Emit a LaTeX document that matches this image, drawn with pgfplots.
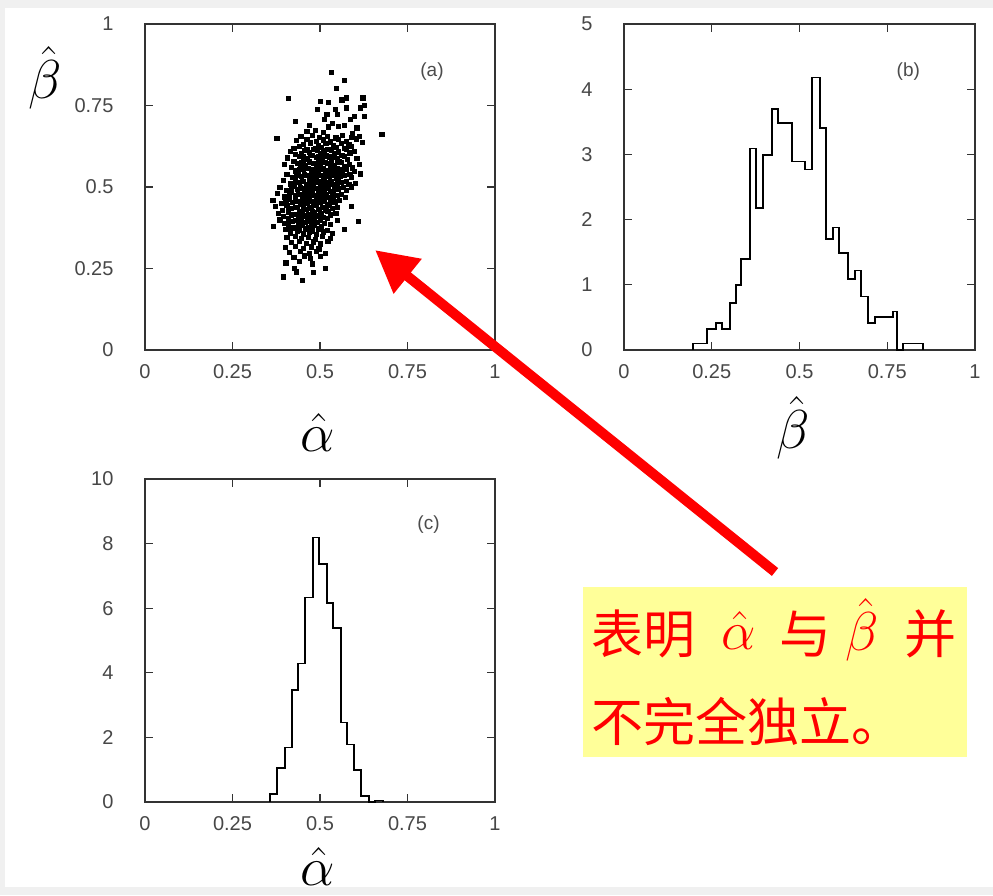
\documentclass[border=0pt]{standalone}
\usepackage{graphicx}
\usepackage{pgfplots}
\pgfplotsset{compat=1.18}
\usepackage{fontspec}
\setmainfont{Liberation Sans}
\newfontfamily\cjk{Noto Sans CJK SC}
\usetikzlibrary{arrows.meta}
\definecolor{boxy}{RGB}{255,255,153}
\definecolor{bgg}{RGB}{240,240,240}
\newcommand{\bigmath}[1]{\scalebox{2.2}{\Huge$#1$}}

\pgfplotstableread{
a b
0.533 0.852
0.569 0.828
0.546 0.804
0.408 0.773
0.500 0.762
0.524 0.759
0.574 0.774
0.562 0.768
0.622 0.774
0.491 0.738
0.543 0.738
0.574 0.743
0.614 0.743
0.626 0.752
0.549 0.723
0.519 0.723
0.598 0.716
0.627 0.718
0.512 0.707
0.429 0.702
0.586 0.709
0.676 0.663
0.551 0.687
0.524 0.685
0.486 0.675
0.462 0.670
0.376 0.649
0.535 0.695
0.568 0.690
0.605 0.682
0.470 0.690
0.508 0.668
0.592 0.665
0.612 0.655
0.445 0.655
0.478 0.659
0.497 0.652
0.520 0.657
0.545 0.651
0.563 0.658
0.588 0.653
0.432 0.643
0.462 0.647
0.488 0.640
0.508 0.645
0.528 0.639
0.552 0.646
0.575 0.641
0.603 0.648
0.452 0.632
0.471 0.636
0.495 0.629
0.516 0.634
0.538 0.628
0.560 0.635
0.582 0.630
0.620 0.637
0.425 0.620
0.440 0.624
0.482 0.617
0.503 0.622
0.522 0.616
0.545 0.623
0.568 0.618
0.590 0.625
0.415 0.610
0.455 0.614
0.470 0.607
0.492 0.612
0.512 0.606
0.533 0.613
0.552 0.608
0.575 0.615
0.598 0.609
0.430 0.600
0.446 0.604
0.478 0.597
0.500 0.602
0.518 0.596
0.540 0.603
0.562 0.598
0.585 0.605
0.407 0.590
0.440 0.594
0.462 0.587
0.488 0.592
0.506 0.586
0.526 0.593
0.548 0.588
0.570 0.595
0.605 0.589
0.425 0.580
0.452 0.584
0.470 0.577
0.494 0.582
0.514 0.576
0.532 0.583
0.555 0.578
0.578 0.585
0.398 0.570
0.436 0.574
0.458 0.567
0.480 0.572
0.500 0.566
0.520 0.573
0.540 0.568
0.560 0.575
0.584 0.569
0.612 0.571
0.418 0.560
0.445 0.564
0.466 0.557
0.488 0.562
0.508 0.556
0.528 0.563
0.548 0.558
0.568 0.565
0.592 0.559
0.428 0.550
0.452 0.554
0.474 0.547
0.494 0.552
0.514 0.546
0.534 0.553
0.554 0.548
0.575 0.555
0.598 0.549
0.405 0.540
0.438 0.544
0.460 0.537
0.482 0.542
0.500 0.536
0.520 0.543
0.540 0.538
0.562 0.545
0.585 0.539
0.614 0.541
0.420 0.530
0.446 0.534
0.468 0.527
0.488 0.532
0.508 0.526
0.526 0.533
0.546 0.528
0.568 0.535
0.590 0.529
0.395 0.520
0.430 0.524
0.452 0.517
0.474 0.522
0.494 0.516
0.512 0.523
0.532 0.518
0.552 0.525
0.574 0.519
0.415 0.510
0.440 0.514
0.460 0.507
0.480 0.512
0.500 0.506
0.518 0.513
0.538 0.508
0.560 0.515
0.582 0.509
0.600 0.511
0.385 0.500
0.425 0.504
0.448 0.497
0.468 0.502
0.486 0.496
0.506 0.503
0.524 0.498
0.544 0.505
0.566 0.499
0.590 0.501
0.405 0.490
0.435 0.494
0.456 0.487
0.476 0.492
0.494 0.486
0.512 0.493
0.530 0.488
0.552 0.495
0.575 0.489
0.378 0.480
0.418 0.484
0.442 0.477
0.462 0.482
0.482 0.476
0.500 0.483
0.518 0.478
0.538 0.485
0.560 0.479
0.398 0.470
0.428 0.474
0.450 0.467
0.470 0.472
0.488 0.466
0.506 0.473
0.526 0.468
0.548 0.475
0.572 0.469
0.365 0.460
0.412 0.464
0.436 0.457
0.456 0.462
0.476 0.456
0.494 0.463
0.512 0.458
0.532 0.465
0.555 0.459
0.390 0.450
0.420 0.454
0.444 0.447
0.464 0.452
0.482 0.446
0.500 0.453
0.520 0.448
0.542 0.455
0.372 0.440
0.405 0.444
0.430 0.437
0.452 0.442
0.470 0.436
0.488 0.443
0.506 0.438
0.526 0.445
0.550 0.439
0.590 0.441
0.392 0.430
0.418 0.434
0.440 0.427
0.460 0.432
0.478 0.426
0.496 0.433
0.514 0.428
0.535 0.435
0.380 0.420
0.408 0.424
0.428 0.417
0.448 0.422
0.466 0.416
0.484 0.423
0.502 0.418
0.522 0.425
0.545 0.419
0.395 0.410
0.418 0.414
0.438 0.407
0.456 0.412
0.474 0.406
0.492 0.413
0.510 0.408
0.530 0.415
0.385 0.400
0.408 0.404
0.428 0.397
0.446 0.402
0.464 0.396
0.482 0.403
0.500 0.398
0.520 0.405
0.548 0.399
0.398 0.390
0.420 0.394
0.438 0.387
0.456 0.392
0.474 0.386
0.492 0.393
0.512 0.388
0.610 0.395
0.367 0.380
0.410 0.384
0.430 0.377
0.448 0.382
0.466 0.376
0.484 0.383
0.504 0.378
0.530 0.385
0.402 0.370
0.422 0.374
0.440 0.367
0.460 0.372
0.478 0.366
0.498 0.373
0.520 0.368
0.569 0.371
0.415 0.360
0.434 0.364
0.452 0.357
0.470 0.362
0.490 0.356
0.510 0.363
0.535 0.358
0.405 0.345
0.428 0.349
0.446 0.342
0.466 0.347
0.486 0.341
0.506 0.348
0.528 0.343
0.418 0.330
0.440 0.334
0.460 0.327
0.480 0.332
0.500 0.326
0.522 0.333
0.400 0.315
0.430 0.319
0.452 0.312
0.474 0.317
0.496 0.311
0.412 0.300
0.444 0.304
0.468 0.297
0.490 0.302
0.515 0.296
0.425 0.285
0.455 0.289
0.471 0.282
0.500 0.287
0.402 0.268
0.440 0.272
0.478 0.265
0.426 0.250
0.514 0.250
0.432 0.240
0.480 0.238
0.395 0.225
0.450 0.215
0.462 0.615
0.486 0.618
0.508 0.613
0.530 0.617
0.452 0.595
0.472 0.598
0.495 0.593
0.516 0.597
0.538 0.592
0.446 0.575
0.468 0.578
0.490 0.573
0.510 0.577
0.530 0.572
0.550 0.576
0.440 0.555
0.460 0.558
0.480 0.553
0.500 0.557
0.520 0.552
0.540 0.556
0.562 0.553
0.432 0.535
0.455 0.538
0.476 0.533
0.496 0.537
0.516 0.532
0.536 0.536
0.556 0.533
0.428 0.515
0.450 0.518
0.470 0.513
0.490 0.517
0.508 0.512
0.528 0.516
0.548 0.513
0.418 0.495
0.444 0.498
0.464 0.493
0.484 0.497
0.502 0.492
0.520 0.496
0.540 0.493
0.412 0.475
0.438 0.478
0.458 0.473
0.478 0.477
0.496 0.472
0.516 0.476
0.536 0.473
0.402 0.455
0.428 0.458
0.452 0.453
0.470 0.457
0.490 0.452
0.508 0.456
0.528 0.453
0.410 0.435
0.434 0.438
0.456 0.433
0.474 0.437
0.494 0.432
0.516 0.436
0.418 0.415
0.442 0.418
0.462 0.413
0.480 0.417
0.498 0.412
0.412 0.395
0.432 0.398
0.452 0.393
0.470 0.397
0.488 0.392
0.418 0.375
0.438 0.378
0.458 0.373
0.476 0.377
0.494 0.372
}\scatterdata

\pgfplotstableread{
x h
0.1975 0
0.1975 0.10
0.2374 0.32
0.2621 0.41
0.2783 0.32
0.3020 0.72
0.3191 1.00
0.3324 1.39
0.3590 3.09
0.3761 2.18
0.3970 2.99
0.4217 3.70
0.4387 3.48
0.4777 2.89
0.5157 2.77
0.5347 4.18
0.5584 3.40
0.5755 1.70
0.5964 1.88
0.6135 1.49
0.6391 1.09
0.6581 1.22
0.6743 0.82
0.6961 0.41
0.7151 0.51
0.7654 0.59
0.7768 0
0.7958 0.10
0.8528 0
}\histbeta

\pgfplotstableread{
x h
0.357 0
0.357 0.26
0.376 1.05
0.400 1.69
0.419 3.46
0.438 4.29
0.457 6.33
0.479 8.19
0.498 7.36
0.519 6.17
0.538 5.38
0.560 2.46
0.578 1.78
0.598 0.98
0.616 0.18
0.641 0
0.657 0.05
0.681 0
}\histalpha

\pgfplotsset{
  myax/.style={
    scale only axis, anchor=south west,
    xmin=0, xmax=1,
    xtick={0,0.25,0.5,0.75,1},
    xticklabels={0,0.25,0.5,0.75,1},
    tick align=inside, major tick length=8pt,
    axis line style={line width=1.4pt, black!80},
    every tick/.style={line width=1.1pt, black!80},
    tick label style={font=\fontsize{20}{23}\selectfont, text=black!72},
    /pgf/number format/assume math mode=true,
    xticklabel style={yshift=-11pt},
    yticklabel style={xshift=-28pt},
    clip=true,
  },
}
\tikzset{plab/.style={font=\fontsize{19}{22}\selectfont, text=black!70}}

\begin{document}
\begin{tikzpicture}[x=1pt,y=1pt]
\useasboundingbox (0,0) rectangle (993,-895);
\fill[bgg] (0,0) rectangle (993,-895);
\fill[white] (5,-8) rectangle (993,-887);

% (a) scatter
\begin{axis}[myax, at={(145pt,-350pt)}, width=350pt, height=326pt,
  ymin=0, ymax=1, ytick={0,0.25,0.5,0.75,1}, yticklabels={0,0.25,0.5,0.75,1}]
  \addplot[only marks, mark=square*, mark size=2.1pt, black] table[x=a, y=b] {\scatterdata};
  \node[plab] at (axis cs:0.82,0.853) {(a)};
\end{axis}

% (b) histogram beta
\begin{axis}[myax, at={(624pt,-350pt)}, width=351pt, height=326pt,
  ymin=0, ymax=5, ytick={0,1,2,3,4,5}]
  \addplot[const plot, black, line width=1.8pt] table[x=x, y=h] {\histbeta};
  \node[plab] at (axis cs:0.81,4.27) {(b)};
\end{axis}

% (c) histogram alpha
\begin{axis}[myax, at={(145pt,-802pt)}, width=350pt, height=323pt,
  ymin=0, ymax=10, ytick={0,2,4,6,8,10}]
  \addplot[const plot, black, line width=1.8pt] table[x=x, y=h] {\histalpha};
  \node[plab] at (axis cs:0.81,8.6) {(c)};
\end{axis}

% axis labels
\node at (45,-78) {\bigmath{\hat{\beta}}};
\node at (318,-432) {\bigmath{\hat{\alpha}}};
\node at (793,-428) {\bigmath{\hat{\beta}}};
\node at (318,-866) {\bigmath{\hat{\alpha}}};

% yellow note
\fill[boxy] (583,-587) rectangle (967,-757);
\begin{scope}[every node/.style={text=red, inner sep=0pt}]
\node[anchor=west] at (591,-634) {\cjk\fontsize{52}{60}\selectfont 表明};
\node at (739,-630) {\color{red}\bigmath{\hat{\alpha}}};
\node at (805,-634) {\cjk\fontsize{52}{60}\selectfont 与};
\node at (862,-630) {\color{red}\bigmath{\hat{\beta}}};
\node at (930,-634) {\cjk\fontsize{52}{60}\selectfont 并};
\node[anchor=west] at (591,-721) {\cjk\fontsize{52}{60}\selectfont 不完全独立。};
\end{scope}

% red arrow
\draw[red, line width=10pt, -{Triangle[length=42pt, width=42pt]}] (775,-572) -- (375,-250);
\end{tikzpicture}
\end{document}
